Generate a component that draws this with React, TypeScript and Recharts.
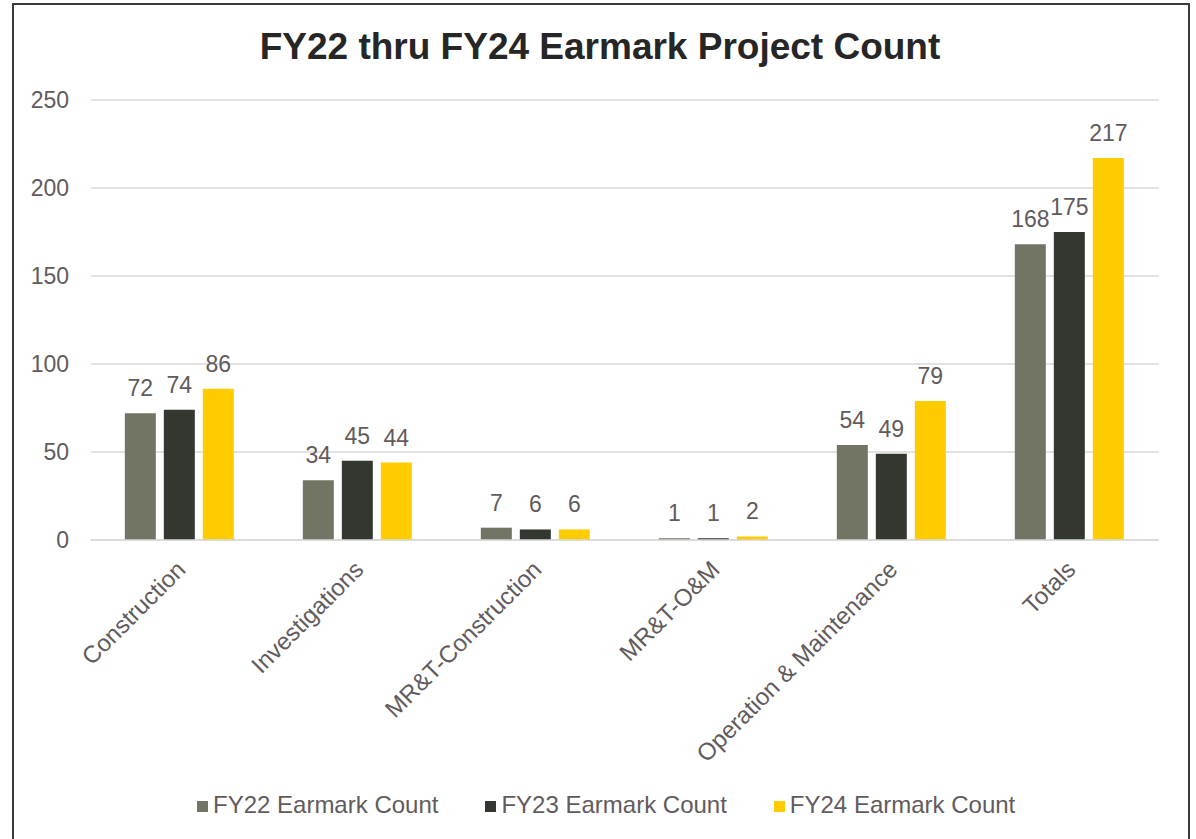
import React from "react";
import { BarChart, Bar, XAxis, YAxis, CartesianGrid, LabelList } from "recharts";

const categories = ["Construction", "Investigations", "MR&T-Construction", "MR&T-O&M", "Operation & Maintenance", "Totals"];
const fy22 = [72, 34, 7, 1, 54, 168];
const fy23 = [74, 45, 6, 1, 49, 175];
const fy24 = [86, 44, 6, 2, 79, 217];
const yTicks = [0, 50, 100, 150, 200, 250];
const seriesNames = ["FY22 Earmark Count", "FY23 Earmark Count", "FY24 Earmark Count"];
const seriesKeys = ["fy22", "fy23", "fy24"];
const seriesColors = ["#727464", "#323830", "#FFCC00"];

const data = categories.map((c, i) => ({ name: c, fy22: fy22[i], fy23: fy23[i], fy24: fy24[i] }));

const FONT = "'Liberation Sans', Arial, Helvetica, sans-serif";
const TEXT = "#625b5d";

const XTick = (props: any) => {
  const { x, y, payload } = props;
  return (
    <g transform={`translate(${x - 5},${y})`}>
      <text
        x={0}
        y={0}
        dy="0.71em"
        textAnchor="end"
        transform="rotate(-45)"
        fill={TEXT}
        fontSize={24}
        fontFamily={FONT}
      >
        {payload.value}
      </text>
    </g>
  );
};

export default function App() {
  return (
    <div style={{ position: "absolute", left: 0, top: 0, width: 1196, height: 839, background: "#fff", overflow: "hidden" }}>
      <div
        style={{
          position: "absolute",
          left: 12,
          top: 3,
          width: 1178,
          height: 900,
          boxSizing: "border-box",
          border: "2px solid #3a3a3a",
        }}
      />
      <div
        style={{
          position: "absolute",
          left: 0,
          top: 28,
          width: 1200,
          textAlign: "center",
          fontFamily: FONT,
          fontWeight: "bold",
          fontSize: 37,
          lineHeight: "37px",
          color: "#262626",
        }}
      >
        FY22 thru FY24 Earmark Project Count
      </div>
      <div style={{ position: "absolute", left: 0, top: 0 }}>
        <BarChart
          width={1196}
          height={839}
          data={data}
          margin={{ top: 100, right: 37, bottom: 0, left: 0 }}
          barCategoryGap="19%"
          barGap={8}
        >
          <CartesianGrid vertical={false} stroke="#d9d9d9" strokeWidth={1.5} />
          <XAxis
            dataKey="name"
            axisLine={{ stroke: "#d9d9d9", strokeWidth: 1.5 }}
            tickLine={false}
            tickMargin={13}
            height={299}
            interval={0}
            tick={<XTick />}
          />
          <YAxis
            domain={[0, 250]}
            ticks={yTicks}
            width={91}
            axisLine={false}
            tickLine={false}
            tickMargin={16}
            tick={{ fill: TEXT, fontSize: 23, fontFamily: FONT }}
          />
          {seriesKeys.map((k, i) => (
            <Bar key={k} dataKey={k} name={seriesNames[i]} fill={seriesColors[i]} isAnimationActive={false}>
              <LabelList dataKey={k} position="top" offset={17} fill={TEXT} fontSize={23} fontFamily={FONT} />
            </Bar>
          ))}
        </BarChart>
      </div>
      <div
        style={{
          position: "absolute",
          left: 197,
          top: 793,
          display: "flex",
          gap: 47,
          fontFamily: FONT,
          fontSize: 24,
          lineHeight: "24px",
          color: TEXT,
        }}
      >
        {seriesNames.map((n, i) => (
          <div key={n} style={{ display: "flex", alignItems: "center" }}>
            <span style={{ display: "inline-block", width: 11, height: 11, background: seriesColors[i], marginRight: 5, marginTop: 2 }} />
            <span>{n}</span>
          </div>
        ))}
      </div>
    </div>
  );
}
